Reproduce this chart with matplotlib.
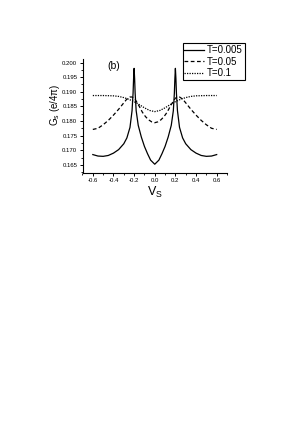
import matplotlib
matplotlib.use("Agg")
import matplotlib.pyplot as plt
from matplotlib.ticker import MultipleLocator, FormatStrFormatter

plt.rcParams['font.family'] = ['Liberation Sans', 'DejaVu Sans']

# T = 0.005 (solid)
x1 = [-0.6, -0.55, -0.5, -0.45, -0.4, -0.35, -0.3, -0.27, -0.24, -0.22, -0.21, -0.205, -0.2,
      -0.195, -0.19, -0.18, -0.16, -0.13, -0.1, -0.07, -0.04, 0.0,
      0.04, 0.07, 0.1, 0.13, 0.16, 0.18, 0.19, 0.195, 0.2, 0.205, 0.21, 0.22, 0.24, 0.27,
      0.3, 0.35, 0.4, 0.45, 0.5, 0.55, 0.6]
y1 = [0.1685, 0.1680, 0.1679, 0.1682, 0.1690, 0.1702, 0.1722, 0.1742, 0.1778, 0.1835, 0.1895, 0.1945, 0.1980,
      0.1945, 0.1895, 0.1835, 0.1785, 0.1745, 0.1713, 0.1688, 0.1666, 0.1652,
      0.1666, 0.1688, 0.1713, 0.1745, 0.1785, 0.1835, 0.1895, 0.1945, 0.1980, 0.1945, 0.1895, 0.1835, 0.1778, 0.1742,
      0.1722, 0.1702, 0.1690, 0.1682, 0.1679, 0.1680, 0.1685]

# T = 0.05 (dashed)
x2 = [-0.6, -0.55, -0.5, -0.45, -0.4, -0.35, -0.3, -0.27, -0.24, -0.22, -0.2, -0.18, -0.15,
      -0.12, -0.09, -0.06, -0.03, 0.0, 0.03, 0.06, 0.09, 0.12, 0.15, 0.18, 0.2, 0.22, 0.24,
      0.27, 0.3, 0.35, 0.4, 0.45, 0.5, 0.55, 0.6]
y2 = [0.1771, 0.1775, 0.1787, 0.1802, 0.1820, 0.1840, 0.1862, 0.1875, 0.1882, 0.1882, 0.1878, 0.1868, 0.1850,
      0.1830, 0.1815, 0.1804, 0.1797, 0.1794, 0.1797, 0.1804, 0.1815, 0.1830, 0.1850, 0.1868, 0.1878, 0.1882, 0.1882,
      0.1875, 0.1862, 0.1840, 0.1820, 0.1802, 0.1787, 0.1775, 0.1771]

# T = 0.1 (dotted)
x3 = [-0.6, -0.5, -0.4, -0.35, -0.3, -0.25, -0.2, -0.15, -0.1, -0.05, 0.0,
      0.05, 0.1, 0.15, 0.2, 0.25, 0.3, 0.35, 0.4, 0.5, 0.6]
y3 = [0.1887, 0.1887, 0.1886, 0.1884, 0.1880, 0.1874, 0.1866, 0.1856, 0.1845, 0.1836, 0.1832,
      0.1836, 0.1845, 0.1856, 0.1866, 0.1874, 0.1880, 0.1884, 0.1886, 0.1887, 0.1887]

labels = ['T=0.005', 'T=0.05', 'T=0.1']

W, H = 300, 424
fig = plt.figure(figsize=(3.0, 4.24), dpi=100)
ax = fig.add_axes([82.5 / W, 1 - 173 / H, (227 - 82.5) / W, (173 - 59) / H])

l1, = ax.plot(x1, y1, color='black', lw=0.9, ls='-')
l2, = ax.plot(x2, y2, color='black', lw=0.9, ls=(0, (3, 2)))
l3, = ax.plot(x3, y3, color='black', lw=0.9, ls=(0, (1, 1)))

ax.set_xlim(-0.7, 0.7)
ax.set_ylim(0.1622, 0.2012)
ax.spines['top'].set_visible(False)
ax.spines['right'].set_visible(False)
for s in ('left', 'bottom'):
    ax.spines[s].set_linewidth(0.8)

ax.xaxis.set_major_locator(MultipleLocator(0.2))
ax.xaxis.set_minor_locator(MultipleLocator(0.1))
ax.yaxis.set_major_locator(MultipleLocator(0.005))
ax.yaxis.set_minor_locator(MultipleLocator(0.0025))
ax.xaxis.set_major_formatter(FormatStrFormatter('%.1f'))
ax.yaxis.set_major_formatter(FormatStrFormatter('%.3f'))
ax.tick_params(which='major', direction='out', length=2.5, width=0.7, labelsize=4.3, pad=1.2)
ax.tick_params(which='minor', direction='out', length=1.5, width=0.6)

ax.set_xlabel('V$_\\mathregular{S}$', fontsize=9, labelpad=1)
fig.text(55 / W, 1 - 105 / H, 'G$_\\mathregular{s}$ (e/4\u03c0)', rotation=90,
         fontsize=7, ha='center', va='center')

ax.text(0.215, 0.985, '(b)', transform=ax.transAxes, fontsize=7.5, ha='center', va='top')

fig.legend([l1, l2, l3], labels, loc='upper right', bbox_to_anchor=(0.815, 0.898),
           fontsize=7, frameon=True, fancybox=False, edgecolor='black', framealpha=1,
           handlelength=2.0, handletextpad=0.3, borderpad=0.2, labelspacing=0.15,
           borderaxespad=0)
fig.legends[0].get_frame().set_linewidth(0.8)

fig.savefig('out.png', dpi=100)
